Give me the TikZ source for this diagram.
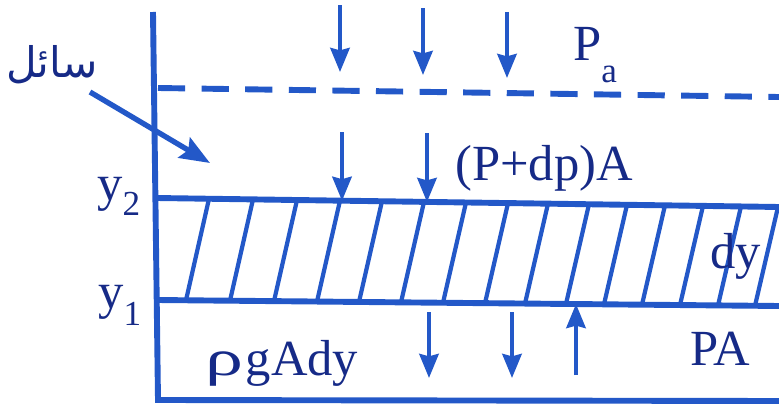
\documentclass[tikz,border=0pt]{standalone}
\usepackage{graphicx}
\usepackage{fontspec}
\setmainfont{Liberation Serif}
\newfontfamily\arabicfont[Script=Arabic]{DejaVu Sans}
\TeXXeTstate=1
\usetikzlibrary{arrows.meta,calc,positioning}
\definecolor{inkblue}{RGB}{35,88,200}
\definecolor{textblue}{RGB}{22,42,135}
\newcommand{\lowsub}[2]{\raisebox{-#1}{\fontsize{25}{28}\selectfont #2}}
\tikzset{
  wall/.style    = {line width=4.2pt, inkblue},
  hatch/.style   = {line width=3pt, inkblue},
  force/.style   = {-{Stealth[length=6mm,width=4.8mm,inset=0.6mm]}, line width=3pt, inkblue},
  pointer/.style = {-{Stealth[length=7.5mm,width=5.8mm,inset=1.2mm]}, line width=3.8pt, inkblue},
  lab/.style     = {font=\fontsize{36}{40}\selectfont, text=textblue, inner sep=0pt},
}

\begin{document}
\begin{tikzpicture}[x=1cm,y=1cm]
  \useasboundingbox (0,0) rectangle (19.475,10.15);
  \coordinate (y2l) at (3.925,5.2);  \coordinate (y2r) at (19.475,4.975);
  \coordinate (y1l) at (3.925,2.65); \coordinate (y1r) at (19.475,2.5);
  \draw[wall,line join=miter] (3.825,9.85) -- (3.95,0.15) -- (19.475,0.125);
  \draw[wall] (y2l) -- (y2r);
  \draw[wall] (y1l) -- (y1r);
  \draw[wall,dash pattern=on 0.68cm off 0.41cm] (3.95,7.95) -- (19.475,7.725);
  \foreach \xb in {4.65,5.75,6.85,7.925,8.975,10.025,11.075,12.125,13.125,14.15,15.1,16.05,17.0,17.95,18.875}{
    \pgfmathsetmacro\fb{(\xb-3.925)/15.55}
    \pgfmathsetmacro\ft{(\xb+0.575-3.925)/15.55}
    \draw[hatch] ($(y1l)!\fb!(y1r)$) -- ($(y2l)!\ft!(y2r)$);}
  \foreach \x/\ya/\yb in {8.5/10.025/8.35, 10.575/9.95/8.275, 12.675/9.85/8.2,
      8.55/6.85/5.13, 10.675/6.825/5.10, 10.725/2.35/0.7, 12.8/2.35/0.7, 14.4/0.775/2.55}
    \draw[force] (\x,\ya) -- (\x,\yb);
  \node[lab,anchor=base west] (pAtm) at (14.325,8.65) {P\lowsub{0.55cm}{a}};
  \node[lab,anchor=base west] (pTop) at (11.375,5.65) {(P+dp)A};
  \node[lab,anchor=base west] (yTwo) at (2.425,5.15) {y\lowsub{0.375cm}{2}};
  \node[lab,anchor=base west] (yOne) at (2.45,2.45) {y\lowsub{0.425cm}{1}};
  \node[lab,anchor=base west] (dyLab) at (17.75,3.45) {dy};
  \node[lab,anchor=base west] (weight) at (5.125,0.775) {\scalebox{1.5}[1]{ρ}\kern0.05em gAdy};
  \node[lab,anchor=base west] (pBot) at (17.25,1.025) {PA};
  \node[lab,font=\arabicfont\fontsize{30}{34}\selectfont] (liquid) at (1.3,8.525) {\beginR سائل\endR};
  \coordinate (liqTail) at (2.25,7.85);
  \coordinate (liqTip) at (5.25,6.075);
  \draw[pointer] (liqTail) -- (liqTip);
\end{tikzpicture}
\end{document}
